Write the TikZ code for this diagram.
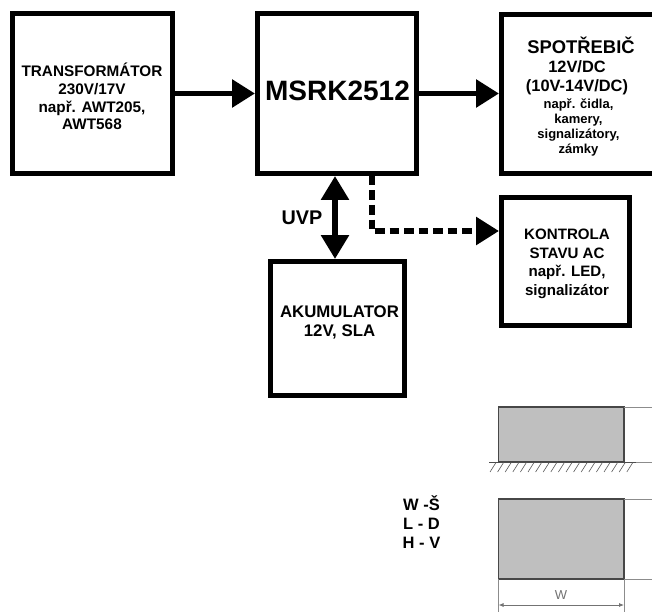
\documentclass[tikz,border=0pt]{standalone}
\usepackage{fontspec}
\setmainfont{Liberation Sans}
\usetikzlibrary{arrows.meta}
\tikzset{
  blockbox/.style={draw=black,line width=5.4pt,fill=white,inner sep=0pt,anchor=north west},
  flow/.style={line width=5.8pt,-{Triangle[length=23pt,width=27pt]}},
  biflow/.style={line width=5.8pt,{Triangle[length=24pt,width=27pt]}-{Triangle[length=24pt,width=27pt]}},
  dashflow/.style={line width=5.8pt,dash pattern=on 9.5pt off 5pt,-{Triangle[length=23pt,width=27pt]}},
  graybox/.style={draw=black!72,line width=1.2pt,fill=black!25,inner sep=0pt,outer sep=0pt,anchor=north west},
  thinline/.style={draw=black!45,line width=.7pt},
  lbl/.style={inner sep=0pt,align=center}
}
\newcommand{\fsz}[2]{\bfseries\fontsize{#1}{#2}\selectfont}
\begin{document}
\begin{tikzpicture}[x=1pt,y=-1pt]
\clip (0,0) rectangle (652,612);
\fill[white] (0,0) rectangle (652,612);
% blocks
\node[blockbox,minimum width=159.6pt,minimum height=159.6pt] (tr) at (10,11) {};
\node[lbl,font=\fsz{15.3}{17.8}] (trt) at (92,96.5) {TRANSFORMÁTOR\\230V/17V\\např. AWT205,\\AWT568};
\node[blockbox,minimum width=158.6pt,minimum height=159.6pt] (ms) at (255,11) {};
\node[lbl,font=\fsz{28}{32}] (mst) at (337.5,91) {MSRK2512};
\node[blockbox,minimum width=170pt,minimum height=158.6pt] (sp) at (499,12) {};
\node[lbl,font=\fsz{18.4}{20}] (spa) at (581,45.5) {SPOTŘEBIČ};
\node[lbl,font=\fsz{16.4}{19}] (spb) at (577,77.5) {12V/DC\\(10V-14V/DC)};
\node[lbl,font=\fsz{13}{15}] (spc) at (578.5,127.5) {např. čidla,\\kamery,\\signalizátory,\\zámky};
\node[blockbox,minimum width=127.6pt,minimum height=127.6pt] (ko) at (499,195) {};
\node[lbl,font=\fsz{15.1}{18.5}] (kot) at (567,264) {KONTROLA\\STAVU AC\\např. LED,\\signalizátor};
\node[blockbox,minimum width=133.6pt,minimum height=133.6pt] (ak) at (268,259) {};
\node[lbl,font=\fsz{16.8}{19}] (akt) at (339.5,322.7) {AKUMULATOR\\12V, SLA};
\node[lbl,font=\fsz{19.8}{22}] (uvp) at (302,217.5) {UVP};
% connectors
\draw[flow] (tr.east) -- (ms.west);
\draw[flow] (ms.east) -- (ms.east -| sp.west);
\coordinate (bix) at (335,0);
\draw[biflow] (ms.south -| bix) -- (ak.north -| bix);
\coordinate (dx) at (372,0);
\coordinate (dturn) at (372,231);
\draw[dashflow] (ms.south -| dx) -- (dturn) -- (dturn -| ko.west);
% lower figure, upper box
\node[graybox,minimum width=125.5pt,minimum height=55pt] (g1) at (498.5,407) {};
\coordinate (r1) at (652,407);
\coordinate (r2) at (652,462);
\draw[thinline] (g1.north east) -- (r1);
\draw[thinline] (g1.south east) -- (r2);
\draw[draw=black!70,line width=.6pt] (489,462) -- (636,462);
\foreach \i in {0,...,18}{
  \draw[draw=black!65,line width=.6pt] ({496+7.6*\i},462.5) -- ({490+7.6*\i},472);
}
% lower figure, lower box
\node[graybox,minimum width=125.5pt,minimum height=80pt] (g2) at (498.5,499) {};
\coordinate (r3) at (652,499);
\coordinate (r4) at (652,579);
\draw[thinline] (g2.north east) -- (r3);
\draw[thinline] (g2.south east) -- (r4);
\coordinate (e1) at (498.5,612);
\coordinate (e2) at (624,612);
\draw[thinline] (g2.south west) -- (e1);
\draw[thinline] (g2.south east) -- (e2);
\coordinate (d1) at (498.5,605);
\coordinate (d2) at (624,605);
\draw[draw=black!55,line width=.8pt,{Latex[length=5pt,width=4pt]}-{Latex[length=5pt,width=4pt]}] (d1) -- (d2);
\node[text=black!55,font=\fontsize{13}{14}\selectfont,inner sep=0pt] (wl) at (561,595) {W};
\node[lbl,font=\fsz{16.5}{19}] (leg) at (421.5,522) {W -Š\\L - D\\H - V};
\end{tikzpicture}
\end{document}
